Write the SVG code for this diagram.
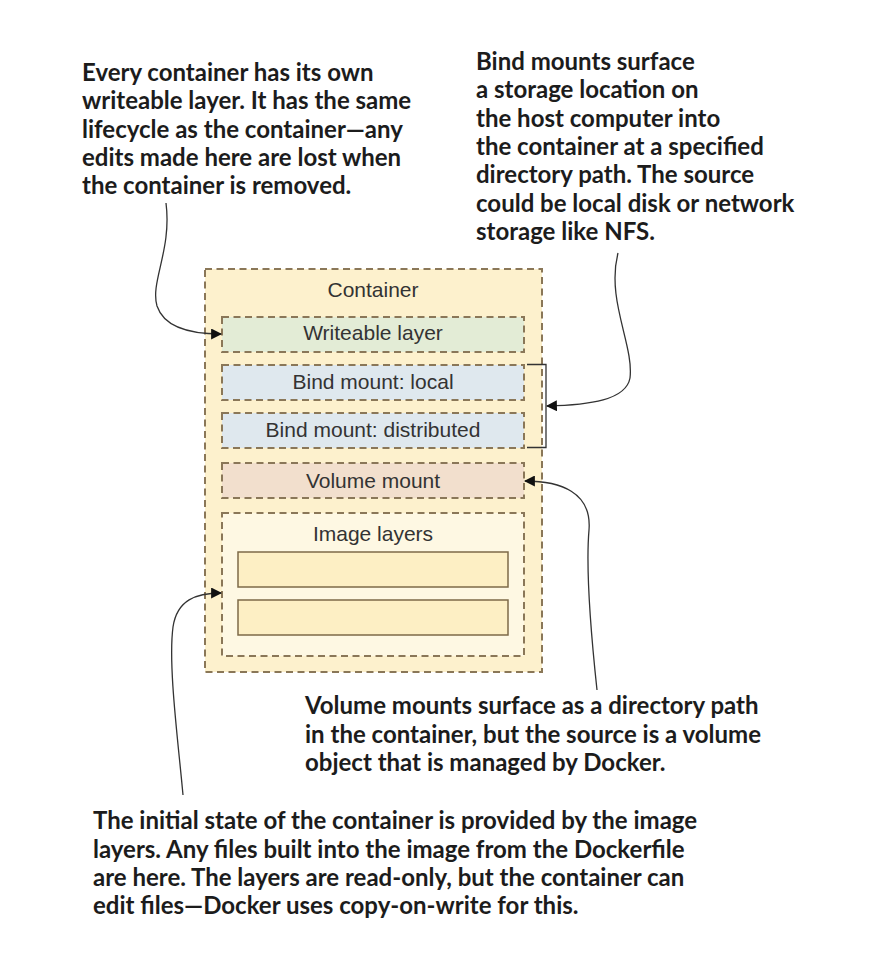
<svg xmlns="http://www.w3.org/2000/svg" width="880" height="962" viewBox="0 0 880 962">
<defs>
<style>
.note{font-family:Lato,"Liberation Sans",sans-serif;font-weight:bold;font-size:24px;fill:#1c1c1c}
.lbl{font-family:"Liberation Sans",Arial,sans-serif;font-size:21px;fill:#333;text-anchor:middle}
.dash{stroke:#8a7758;stroke-width:2;stroke-dasharray:7 4.5}
.conn{fill:none;stroke:#333;stroke-width:1.3}
</style>
<marker id="ah" viewBox="0 0 10 10" refX="9" refY="5" markerWidth="11" markerHeight="11" markerUnits="userSpaceOnUse" orient="auto">
<path d="M0,0 L10,5 L0,10 Z" fill="#111"/>
</marker>
</defs>
<rect width="880" height="962" fill="#fff"/>
<g id="container">
<rect x="205" y="269" width="337" height="403" fill="#fdf1cd" class="dash"/>
<text class="lbl" x="373" y="297">Container</text>
</g>
<g id="writeable">
<rect x="222" y="317" width="302" height="35" fill="#e3ecd6" class="dash"/>
<text class="lbl" x="373" y="340">Writeable layer</text>
</g>
<g id="bind-local">
<rect x="222" y="365" width="302" height="35" fill="#dfe8ee" class="dash"/>
<text class="lbl" x="373" y="389">Bind mount: local</text>
</g>
<g id="bind-distributed">
<rect x="222" y="413" width="302" height="35" fill="#dfe8ee" class="dash"/>
<text class="lbl" x="373" y="437">Bind mount: distributed</text>
</g>
<g id="volume">
<rect x="222" y="463" width="302" height="35" fill="#f2dfcd" class="dash"/>
<text class="lbl" x="373" y="488">Volume mount</text>
</g>
<g id="image-layers">
<rect x="222" y="513" width="302" height="143" fill="#fef8e3" class="dash"/>
<text class="lbl" x="373" y="541">Image layers</text>
<rect x="238" y="552" width="270" height="35" fill="#fdefc4" stroke="#7d6a48" stroke-width="1.5"/>
<rect x="238" y="600" width="270" height="35" fill="#fdefc4" stroke="#7d6a48" stroke-width="1.5"/>
</g>
<g id="connectors">
<path class="conn" d="M527,364.5 H546 V447.5 H527" stroke="#222" stroke-width="1.8"/>
<path class="conn" d="M166,203 C172,250 150,282 157,306 C165,330 195,334 221,334" marker-end="url(#ah)"/>
<path class="conn" d="M618,253 C606,300 634,345 630,378 C626,400 590,405 547,406" marker-end="url(#ah)"/>
<path class="conn" d="M597,690 C590,625 586,565 589,530 C592,492 560,481 525,481" marker-end="url(#ah)"/>
<path class="conn" d="M183,795 C178,740 168,665 173,627 C177,600 196,593 221,593" marker-end="url(#ah)"/>
</g>
<g id="note-writeable">
<text class="note" x="82" y="81">Every container has its own</text>
<text class="note" x="82" y="109">writeable layer. It has the same</text>
<text class="note" x="82" y="138">lifecycle as the container—any</text>
<text class="note" x="82" y="166">edits made here are lost when</text>
<text class="note" x="82" y="194">the container is removed.</text>
</g>
<g id="note-bind">
<text class="note" x="476" y="70">Bind mounts surface</text>
<text class="note" x="476" y="98">a storage location on</text>
<text class="note" x="476" y="127">the host computer into</text>
<text class="note" x="476" y="155">the container at a specified</text>
<text class="note" x="476" y="183">directory path. The source</text>
<text class="note" x="476" y="212">could be local disk or network</text>
<text class="note" x="476" y="240">storage like NFS.</text>
</g>
<g id="note-volume">
<text class="note" x="305" y="714">Volume mounts surface as a directory path</text>
<text class="note" x="305" y="743">in the container, but the source is a volume</text>
<text class="note" x="305" y="771">object that is managed by Docker.</text>
</g>
<g id="note-image">
<text class="note" x="93" y="829">The initial state of the container is provided by the image</text>
<text class="note" x="93" y="858">layers. Any files built into the image from the Dockerfile</text>
<text class="note" x="93" y="886">are here. The layers are read-only, but the container can</text>
<text class="note" x="93" y="914">edit files—Docker uses copy-on-write for this.</text>
</g>
</svg>
